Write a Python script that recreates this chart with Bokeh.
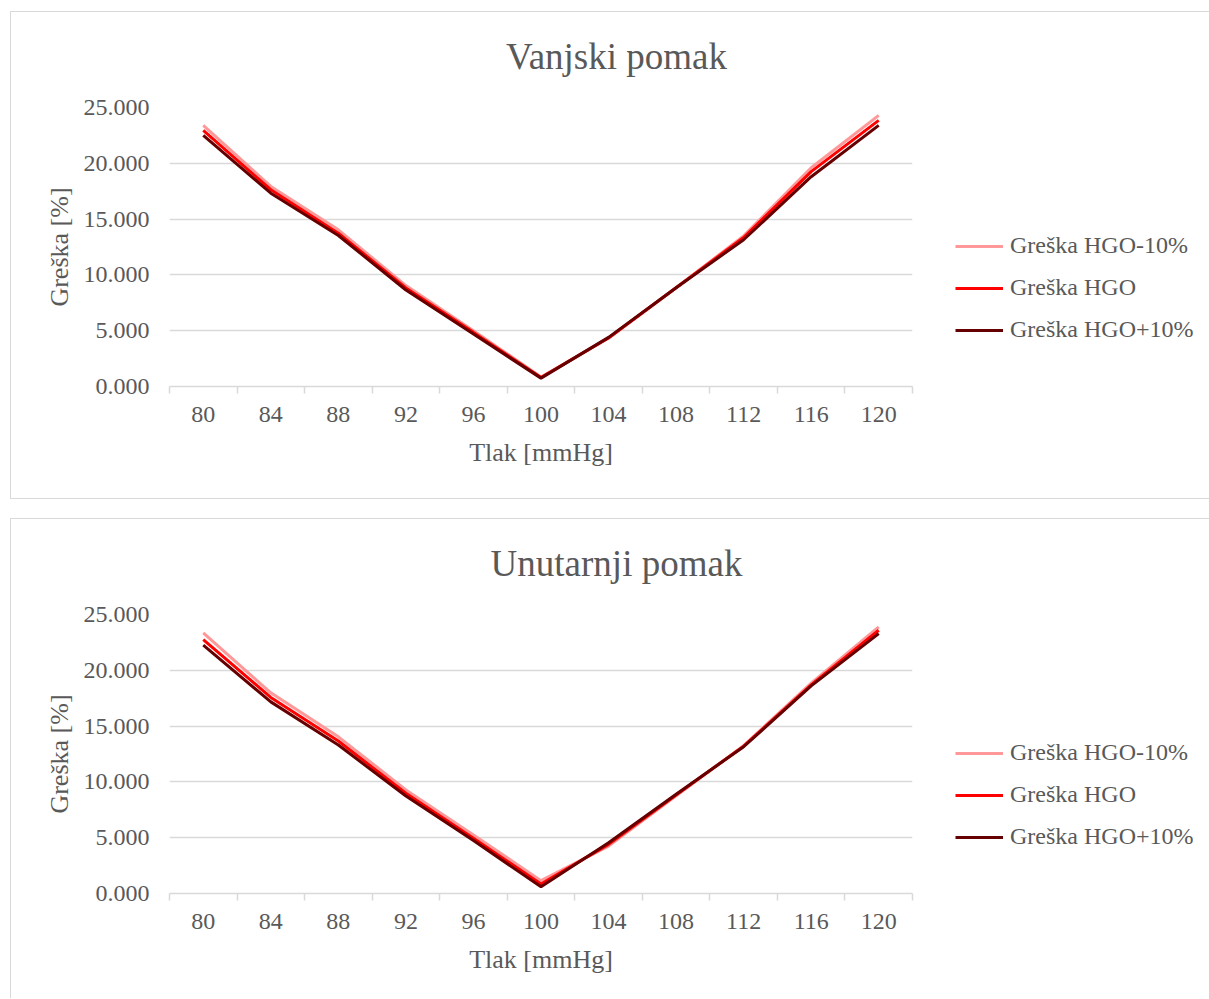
import numpy as np
from bokeh.plotting import figure
from bokeh.models import (Range1d, FixedTicker, NumeralTickFormatter, Legend, LegendItem,
                          Label, Spacer)
from bokeh.layouts import column, row
from bokeh.embed import file_html
from bokeh.resources import INLINE

# ---------------- data ----------------
pressure = [80, 84, 88, 92, 96, 100, 104, 108, 112, 116, 120]
y_ticks = [0, 5, 10, 15, 20, 25]
series_names = ["Greška HGO-10%", "Greška HGO", "Greška HGO+10%"]
series_colors = ["#FF9999", "#FF0000", "#660000"]

vanjski_minus10 = [23.40, 17.93, 14.04, 9.04, 5.00, 0.85, 4.35, 8.85, 13.50, 19.60, 24.30]
vanjski_hgo     = [22.95, 17.63, 13.73, 8.83, 4.85, 0.80, 4.35, 8.85, 13.35, 19.25, 23.85]
vanjski_plus10  = [22.50, 17.32, 13.53, 8.65, 4.70, 0.75, 4.40, 8.85, 13.15, 18.80, 23.40]

unutarnji_minus10 = [23.35, 17.98, 14.04, 9.28, 5.25, 1.15, 4.25, 8.75, 13.25, 18.85, 23.88]
unutarnji_hgo     = [22.75, 17.57, 13.66, 8.98, 4.95, 0.85, 4.40, 8.83, 13.20, 18.70, 23.59]
unutarnji_plus10  = [22.25, 17.17, 13.30, 8.74, 4.74, 0.60, 4.55, 8.90, 13.15, 18.60, 23.29]

FONT = "Liberation Serif"
TXT = "#595959"
GRID = "#D9D9D9"
BORDER = "1px solid #D9D9D9"

# layout constants (pixels)
FULL_W = 1199       # whole chart box (page x 10 .. 1209)
LEFT_W = 930        # chart part
LEG_W = FULL_W - LEFT_W
TITLE_H = 84        # title strip
LEFT = 158
TOP = 12
PLOT_W = 743
PLOT_H = 279


def blank(width, height, css, x_end, y_end, top=0, bottom=0):
    f = figure(width=width, height=height, x_range=Range1d(0, x_end), y_range=Range1d(0, y_end),
               x_axis_type=None, y_axis_type=None, output_backend="svg",
               toolbar_location=None, min_border_left=0, min_border_right=0,
               min_border_top=top, min_border_bottom=bottom,
               outline_line_color=None, styles=css)
    f.background_fill_color = "white"
    f.border_fill_color = "white"
    f.xgrid.grid_line_color = None
    f.ygrid.grid_line_color = None
    return f


def make_chart(title, series, height, bottom, with_bottom_border):
    step = pressure[1] - pressure[0]
    x0 = pressure[0] - step / 2
    x1 = pressure[-1] + step / 2

    # ---- title strip ----
    t = blank(FULL_W, TITLE_H, {"border-top": BORDER, "border-left": BORDER}, FULL_W, TITLE_H)
    t.add_layout(Label(x=605, y=TITLE_H - 44, text=title, text_align="center",
                       text_baseline="middle", text_font=FONT, text_font_size="37px",
                       text_color=TXT))

    # ---- chart ----
    body_h = height - TITLE_H
    css = {"border-left": BORDER}
    css_leg = {}
    if with_bottom_border:
        css["border-bottom"] = BORDER
        css_leg["border-bottom"] = BORDER
    p = figure(width=LEFT_W, height=body_h, x_range=Range1d(x0, x1),
               y_range=Range1d(y_ticks[0], y_ticks[-1]),
               output_backend="svg", toolbar_location=None,
               min_border_left=LEFT, min_border_right=LEFT_W - LEFT - PLOT_W,
               min_border_top=TOP, min_border_bottom=bottom,
               outline_line_color=None, styles=css)
    p.background_fill_color = "white"
    p.border_fill_color = "white"

    boundaries = [v - step / 2 for v in pressure] + [pressure[-1] + step / 2]
    xa = p.xaxis[0]
    xa.ticker = FixedTicker(ticks=pressure, minor_ticks=boundaries)
    xa.axis_line_color = GRID
    xa.axis_line_width = 1.5
    xa.major_tick_line_color = None
    xa.major_tick_out = 0
    xa.major_tick_in = 0
    xa.minor_tick_line_color = GRID
    xa.minor_tick_line_width = 1.5
    xa.minor_tick_out = 7
    xa.minor_tick_in = 0
    xa.major_label_text_font = FONT
    xa.major_label_text_font_size = "24px"
    xa.major_label_text_color = TXT
    xa.major_label_standoff = 13
    xa.axis_label = "Tlak [mmHg]"
    xa.axis_label_text_font = FONT
    xa.axis_label_text_font_size = "26px"
    xa.axis_label_text_font_style = "normal"
    xa.axis_label_text_color = TXT
    xa.axis_label_standoff = 13

    ya = p.yaxis[0]
    ya.ticker = FixedTicker(ticks=y_ticks)
    ya.formatter = NumeralTickFormatter(format="0.000")
    ya.axis_line_color = None
    ya.major_tick_line_color = None
    ya.minor_tick_line_color = None
    ya.major_tick_out = 0
    ya.major_label_text_font = FONT
    ya.major_label_text_font_size = "24px"
    ya.major_label_text_color = TXT
    ya.major_label_standoff = 20
    ya.axis_label = "Greška [%]"
    ya.axis_label_text_font = FONT
    ya.axis_label_text_font_size = "26px"
    ya.axis_label_text_font_style = "normal"
    ya.axis_label_text_color = TXT
    ya.axis_label_standoff = 7

    p.xgrid.grid_line_color = None
    p.ygrid.grid_line_color = GRID
    p.ygrid.grid_line_width = 1.5

    for ys, col in zip(series, series_colors):
        p.line(pressure, ys, line_color=col, line_width=3)

    # ---- legend part ----
    q = blank(LEG_W, body_h, css_leg, 1, 1, top=TOP, bottom=bottom)
    nan = np.array([np.nan])
    keys = [q.line(nan, nan, line_color=col, line_width=3) for col in series_colors]
    items = [LegendItem(label=n, renderers=[r]) for n, r in zip(series_names, keys)]
    leg = Legend(items=items, location=(15, 43), orientation="vertical")
    leg.border_line_color = None
    leg.background_fill_alpha = 0
    leg.padding = 0
    leg.margin = 0
    leg.glyph_width = 48
    leg.glyph_height = 24
    leg.label_height = 24
    leg.spacing = 15
    leg.label_standoff = 7
    leg.label_text_font = FONT
    leg.label_text_font_size = "24px"
    leg.label_text_color = TXT
    q.add_layout(leg)

    return row(Spacer(width=10), column(t, row(p, q)))


c1 = make_chart("Vanjski pomak", [vanjski_minus10, vanjski_hgo, vanjski_plus10], 488, 113, True)
c2 = make_chart("Unutarnji pomak", [unutarnji_minus10, unutarnji_hgo, unutarnji_plus10], 480, 105, False)

layout = column(Spacer(height=11), c1, Spacer(height=19), c2)

with open("out.html", "w") as f:
    f.write(file_html(layout, INLINE))
